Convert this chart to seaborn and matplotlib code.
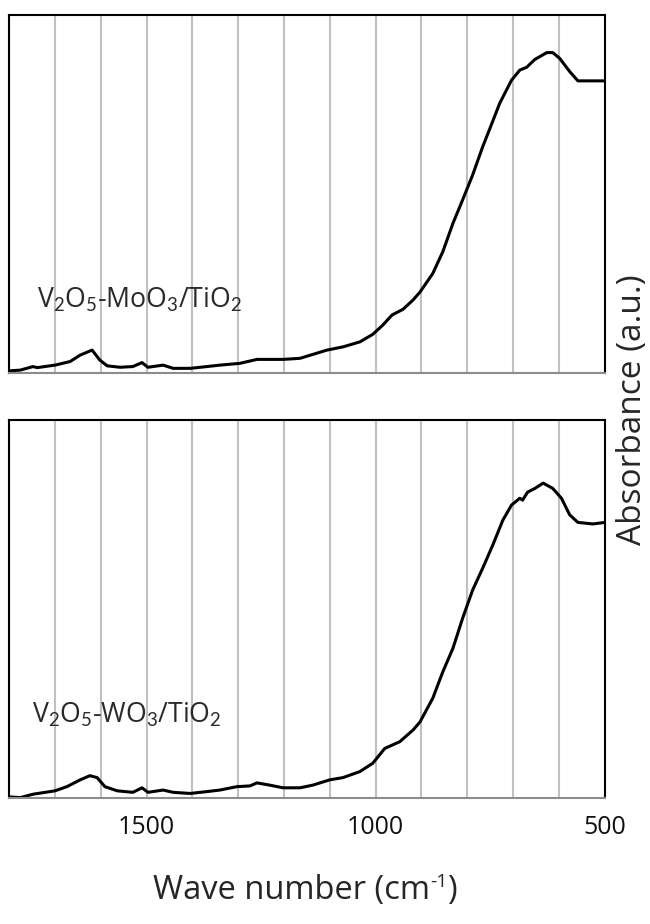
import numpy as np
import pandas as pd
import matplotlib
matplotlib.use("Agg")
import matplotlib.pyplot as plt
from matplotlib.ticker import MultipleLocator
import seaborn as sns

# FTIR spectra (absorbance, arbitrary units) vs wave number (cm^-1)
wn_mo = [1800, 1776, 1748, 1739, 1700, 1667, 1645, 1619, 1602, 1586, 1558, 1530,
         1510, 1497, 1464, 1442, 1405, 1368, 1340, 1296, 1259, 1202, 1165, 1106,
         1071, 1034, 1006, 984, 964, 940, 918, 903, 875, 853, 831, 810, 788, 766,
         746, 729, 703, 685, 670, 652, 626, 613, 598, 576, 558, 525, 500]
abs_mo = [0.006, 0.008, 0.018, 0.015, 0.022, 0.032, 0.050, 0.064, 0.036, 0.020,
          0.016, 0.018, 0.029, 0.016, 0.022, 0.013, 0.013, 0.018, 0.022, 0.027,
          0.038, 0.038, 0.041, 0.064, 0.073, 0.087, 0.108, 0.134, 0.162, 0.178,
          0.204, 0.226, 0.278, 0.339, 0.418, 0.483, 0.553, 0.632, 0.697, 0.753,
          0.818, 0.846, 0.854, 0.876, 0.895, 0.895, 0.879, 0.842, 0.816, 0.816,
          0.816]

wn_w = [1800, 1776, 1748, 1700, 1674, 1645, 1624, 1608, 1591, 1564, 1530, 1510,
        1497, 1464, 1442, 1405, 1368, 1340, 1303, 1274, 1259, 1231, 1202, 1165,
        1137, 1100, 1071, 1034, 1006, 980, 947, 918, 903, 875, 853, 831, 810, 788,
        766, 744, 722, 703, 685, 679, 668, 652, 634, 613, 594, 576, 558, 525, 500]
abs_w = [0.003, 0.001, 0.010, 0.019, 0.030, 0.048, 0.059, 0.054, 0.030, 0.019,
         0.015, 0.027, 0.015, 0.021, 0.015, 0.012, 0.017, 0.021, 0.030, 0.032,
         0.040, 0.034, 0.027, 0.027, 0.034, 0.048, 0.054, 0.070, 0.092, 0.131,
         0.149, 0.180, 0.201, 0.264, 0.334, 0.396, 0.475, 0.550, 0.608, 0.669,
         0.735, 0.775, 0.793, 0.788, 0.809, 0.819, 0.833, 0.819, 0.793, 0.749,
         0.729, 0.725, 0.729]

sample_labels = ["V$_2$O$_5$-MoO$_3$/TiO$_2$", "V$_2$O$_5$-WO$_3$/TiO$_2$"]
x_ticks = [1500, 1000, 500]
x_label_parts = ["Wave number (cm", "-1", ")"]
y_label = "Absorbance (a.u.)"

sns.set_style("white")
plt.rcParams["font.family"] = ["Open Sans", "DejaVu Sans"]
plt.rcParams["mathtext.fontset"] = "custom"
plt.rcParams["mathtext.rm"] = "Lato"
plt.rcParams["mathtext.it"] = "Lato"

W, H = 650, 924
fig = plt.figure(figsize=(W / 100, H / 100), dpi=100)
left, right = 9.2, 604.5
ax_top = fig.add_axes([left / W, 1 - 373 / H, (right - left) / W, (373 - 15) / H])
ax_bot = fig.add_axes([left / W, 1 - 798 / H, (right - left) / W, (798 - 420) / H])

df_mo = pd.DataFrame({"wn": wn_mo, "A": abs_mo})
df_w = pd.DataFrame({"wn": wn_w, "A": abs_w})

panels = [(ax_top, df_mo, sample_labels[0], (37, 308)),
          (ax_bot, df_w, sample_labels[1], (32, 723))]

for ax, df, lab, (tx, ty) in panels:
    sns.lineplot(data=df, x="wn", y="A", ax=ax, color="black", lw=2.2,
                 sort=False, estimator=None)
    ax.set_xlim(1800, 500)
    ax.set_ylim(0, 1)
    ax.xaxis.set_major_locator(MultipleLocator(500))
    ax.xaxis.set_minor_locator(MultipleLocator(100))
    ax.grid(True, which="both", axis="x", color="#c0c0c0", lw=1.5)
    ax.grid(False, axis="y")
    ax.set_yticks([])
    ax.set_xlabel("")
    ax.set_ylabel("")
    ax.tick_params(axis="x", which="both", length=0)
    for name, sp in ax.spines.items():
        sp.set_color("black")
        sp.set_linewidth(1.5)
    ax.spines["bottom"].set_color("#8c8c8c")
    ax.set_axisbelow(True)
    fig.text(tx / W, 1 - ty / H, lab, fontsize=19.2, color="#2a2a2a",
             ha="left", va="baseline")

ax_top.set_xticklabels([])
ax_bot.set_xticks(x_ticks)
ax_bot.set_xticklabels([str(v) for v in x_ticks], fontsize=18, color="#111111")
ax_bot.tick_params(axis="x", pad=12)

# x-axis title built from pieces so the superscript keeps a plain hyphen
base = 1 - 899 / H
t_main = fig.text(0, base, x_label_parts[0], fontsize=23.5, ha="left",
                  va="baseline")
t_sup = fig.text(0, 0, x_label_parts[1], fontsize=14, ha="left", va="baseline")
t_end = fig.text(0, 0, x_label_parts[2], fontsize=23.5, ha="left", va="baseline")
fig.canvas.draw()
r = fig.canvas.get_renderer()
w_main = t_main.get_window_extent(r).width
w_sup = t_sup.get_window_extent(r).width
w_end = t_end.get_window_extent(r).width
x0 = 305 - (w_main + w_sup + w_end) / 2
t_main.set_x(x0 / W)
t_sup.set_position(((x0 + w_main) / W, base + 12 / H))
t_end.set_position(((x0 + w_main + w_sup) / W, base))

fig.text(633 / W, 1 - 410 / H, y_label, fontsize=24, rotation=90,
         ha="center", va="center")

fig.savefig("out.png", dpi=100)
